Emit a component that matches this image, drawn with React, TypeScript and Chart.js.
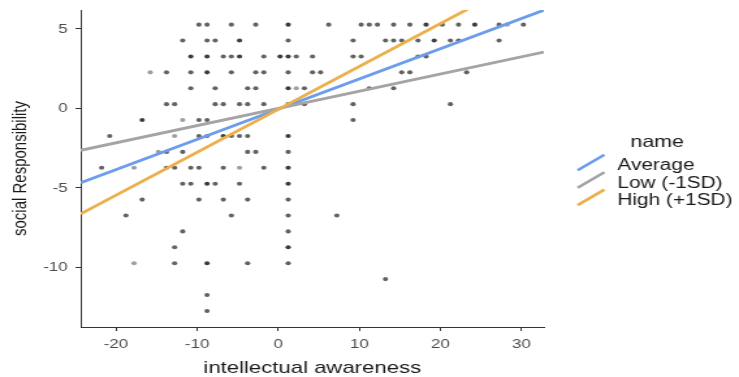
import React, { useEffect, useRef } from "react";
import { Chart, registerables } from "chart.js";

Chart.register(...registerables);

// ---------- data ----------
const xTickValues = [-20, -10, 0, 10, 20, 30];
const xTickLabels = ["-20", "-10", "0", "10", "20", "30"];
const yTickValues = [-10, -5, 0, 5];
const yTickLabels = ["-10", "-5", "0", "5"];

// intellectual awareness (x) of each plotted observation location
const awarenessValues = [
  // row 5.27
  -9.77, -8.77, -5.77, -2.77, 1.23, 6.23, 10.23, 11.23, 12.23, 14.23, 16.23, 18.23, 20.23, 22.23, 24.23, 27.23, 28.23, 30.23,
  // row 4.27
  -11.77, -8.77, -7.77, -4.77, 1.23, 9.23, 13.23, 14.23, 15.23, 17.23, 19.23, 21.23, 22.23, 27.23,
  // row 3.27
  -10.77, -8.77, -6.77, -5.77, -4.77, -1.77, 0.23, 1.23, 2.23, 4.23, 9.23, 10.23, 17.23, 18.23,
  // row 2.27
  -15.77, -13.77, -10.77, -8.77, -5.77, -2.77, -1.77, 1.23, 4.23, 5.23, 15.23, 16.23, 23.23,
  // row 1.27
  -10.77, -7.77, -3.77, -2.77, 1.23, 2.23, 3.23, 11.23, 14.23,
  // row 0.27
  -13.77, -12.77, -7.77, -6.77, -4.77, -3.77, -1.77, 1.23, 3.23, 9.23, 21.23,
  // row -0.73
  -16.77, -11.77, -9.77, -8.77, 9.23,
  // row -1.73
  -20.77, -12.77, -9.77, -8.77, -6.77, -5.77, -4.77, -3.77, 1.23,
  // row -2.73
  -14.77, -13.77, -11.77, -3.77, -2.77, 1.23,
  // row -3.73
  -21.77, -17.77, -13.77, -12.77, -10.77, -9.77, -6.77, -4.77, -1.77, 1.23,
  // row -4.73
  -11.77, -10.77, -8.77, -7.77, -4.77, 1.23,
  // row -5.73
  -16.77, -9.77, -6.77, -3.77, 1.23,
  // row -6.73
  -18.77, -5.77, 1.23, 7.23,
  // row -7.73
  -11.77, 1.23,
  // row -8.73
  -12.77, 1.23,
  // row -9.73
  -17.77, -12.77, -8.77, -3.77, 1.23,
  // row -10.73
  13.23,
  // row -11.73
  -8.77,
  // row -12.73
  -8.77,
];

// social Responsibility (y)
const responsibilityValues = [
  5.27, 5.27, 5.27, 5.27, 5.27, 5.27, 5.27, 5.27, 5.27, 5.27, 5.27, 5.27, 5.27, 5.27, 5.27, 5.27, 5.27, 5.27,
  4.27, 4.27, 4.27, 4.27, 4.27, 4.27, 4.27, 4.27, 4.27, 4.27, 4.27, 4.27, 4.27, 4.27,
  3.27, 3.27, 3.27, 3.27, 3.27, 3.27, 3.27, 3.27, 3.27, 3.27, 3.27, 3.27, 3.27, 3.27,
  2.27, 2.27, 2.27, 2.27, 2.27, 2.27, 2.27, 2.27, 2.27, 2.27, 2.27, 2.27, 2.27,
  1.27, 1.27, 1.27, 1.27, 1.27, 1.27, 1.27, 1.27, 1.27,
  0.27, 0.27, 0.27, 0.27, 0.27, 0.27, 0.27, 0.27, 0.27, 0.27, 0.27,
  -0.73, -0.73, -0.73, -0.73, -0.73,
  -1.73, -1.73, -1.73, -1.73, -1.73, -1.73, -1.73, -1.73, -1.73,
  -2.73, -2.73, -2.73, -2.73, -2.73, -2.73,
  -3.73, -3.73, -3.73, -3.73, -3.73, -3.73, -3.73, -3.73, -3.73, -3.73,
  -4.73, -4.73, -4.73, -4.73, -4.73, -4.73,
  -5.73, -5.73, -5.73, -5.73, -5.73,
  -6.73, -6.73, -6.73, -6.73,
  -7.73, -7.73,
  -8.73, -8.73,
  -9.73, -9.73, -9.73, -9.73, -9.73,
  -10.73,
  -11.73,
  -12.73,
];

// number of overlapping observations at each location
const overlapCount = [
  2, 2, 2, 2, 3, 2, 2, 2, 2, 2, 2, 3, 2, 2, 3, 2, 1, 2,
  2, 2, 2, 3, 2, 2, 2, 2, 2, 2, 3, 2, 2, 2,
  3, 3, 2, 2, 3, 2, 3, 3, 2, 2, 2, 2, 2, 2,
  1, 2, 2, 3, 2, 2, 2, 2, 2, 2, 2, 2, 2,
  2, 2, 2, 2, 3, 1, 2, 2, 2,
  2, 2, 2, 2, 2, 2, 2, 2, 2, 2, 2,
  3, 1, 2, 2, 2,
  2, 1, 2, 2, 3, 2, 2, 2, 3,
  1, 2, 2, 2, 2, 2,
  2, 1, 2, 2, 2, 2, 2, 1, 2, 3,
  2, 2, 3, 2, 2, 3,
  2, 2, 2, 2, 2,
  2, 2, 2, 2,
  2, 2,
  2, 3,
  1, 2, 3, 2, 2,
  2,
  2,
  2,
];

// simple slopes (two end points each)
const lineNames = ["Average", "Low (-1SD)", "High (+1SD)"];
const lineX = [-24.35, 32.75];
const averageY = [-4.67, 6.18];
const lowY = [-2.63, 3.54];
const highY = [-6.63, 8.78];

// ---------- styles ----------
const FONT = "'Liberation Sans', Arial, Helvetica, sans-serif";
const LINE_COLORS = ["#6C9CEC", "#A4A4A4", "#EBB04B"];
const CANVAS_W = 568;
const CANVAS_H = 377;

const legendPlugin = {
  id: "ggLegend",
  afterDraw(chart: any) {
    const { ctx, chartArea } = chart;
    const r = chartArea.right;
    const cy = (chartArea.top + chartArea.bottom) / 2;
    ctx.save();
    ctx.fillStyle = "#1a1a1a";
    ctx.textBaseline = "alphabetic";
    ctx.textAlign = "left";
    ctx.font = `16.5px ${FONT}`;
    ctx.fillText("name", r + 66.5, cy - 22);
    ctx.font = `16px ${FONT}`;
    lineNames.forEach((name, i) => {
      const base = cy + 1.8 + i * 17.4;
      ctx.strokeStyle = LINE_COLORS[i];
      ctx.lineWidth = 2.6;
      ctx.lineCap = "butt";
      ctx.beginPath();
      ctx.moveTo(r + 26, base);
      ctx.lineTo(r + 46.5, base - 15.5);
      ctx.stroke();
      ctx.fillText(name, r + 56.5, base);
    });
    ctx.restore();
  },
};

export default function App() {
  const ref = useRef<HTMLCanvasElement>(null);

  useEffect(() => {
    const canvas = ref.current;
    if (!canvas) return;

    const points = awarenessValues.map((x, i) => ({ x, y: responsibilityValues[i] }));
    const pointColors = overlapCount.map((n) => {
      const a = 1 - Math.pow(1 - 0.38, n);
      return `rgba(0,0,0,${a.toFixed(3)})`;
    });
    const lineSeries = [averageY, lowY, highY];
    const lineDatasets = [2, 1, 0].map((k) => ({
      label: lineNames[k],
      data: lineX.map((x, i) => ({ x, y: lineSeries[k][i] })),
      showLine: true,
      borderColor: LINE_COLORS[k],
      backgroundColor: LINE_COLORS[k],
      borderWidth: 2.8,
      pointRadius: 0,
      pointHoverRadius: 0,
      fill: false,
      tension: 0,
      clip: 0,
    }));

    const chart = new Chart(canvas, {
      type: "scatter",
      data: {
        datasets: [
          ...lineDatasets,
          {
            label: "observations",
            data: points,
            pointRadius: 2.05,
            pointHoverRadius: 2.05,
            pointBorderWidth: 0,
            pointBackgroundColor: pointColors,
            pointBorderColor: pointColors,
            showLine: false,
            clip: false,
          },
        ] as any,
      },
      options: {
        responsive: false,
        maintainAspectRatio: false,
        animation: false,
        devicePixelRatio: 1,
        events: [],
        layout: { autoPadding: false, padding: { left: 0, right: 150, top: 10, bottom: 0 } },
        plugins: {
          legend: { display: false },
          tooltip: { enabled: false },
        },
        scales: {
          x: {
            type: "linear",
            min: -24.35,
            max: 32.75,
            afterBuildTicks: (s: any) => {
              s.ticks = xTickValues.map((v) => ({ value: v }));
            },
            afterFit: (s: any) => {
              s.height = 50;
              s.paddingLeft = 0;
              s.paddingRight = 0;
            },
            grid: { drawOnChartArea: false, drawTicks: true, tickLength: 4, color: "#333", lineWidth: 1 },
            border: { display: true, color: "#333", width: 1 },
            ticks: {
              color: "#4d4d4d",
              font: { family: FONT, size: 13 },
              padding: 6,
              maxRotation: 0,
              autoSkip: false,
              callback: (_v: any, i: number) => xTickLabels[i],
            },
            title: {
              display: true,
              text: "intellectual awareness",
              color: "#1a1a1a",
              font: { family: FONT, size: 17 },
              padding: { top: 0, bottom: -2 },
            },
          },
          y: {
            type: "linear",
            min: -13.74,
            max: 6.19,
            afterBuildTicks: (s: any) => {
              s.ticks = yTickValues.map((v) => ({ value: v }));
            },
            afterFit: (s: any) => {
              s.width = 62;
              s.paddingTop = 0;
              s.paddingBottom = 0;
            },
            grid: { drawOnChartArea: false, drawTicks: true, tickLength: 4, color: "#333", lineWidth: 1 },
            border: { display: true, color: "#333", width: 1 },
            ticks: {
              color: "#4d4d4d",
              font: { family: FONT, size: 13 },
              padding: 6,
              autoSkip: false,
              callback: (_v: any, i: number) => yTickLabels[i],
            },
            title: {
              display: true,
              text: "social Responsibility",
              color: "#1a1a1a",
              font: { family: FONT, size: 15 },
              padding: { top: 7, bottom: 0 },
            },
          },
        },
      } as any,
      plugins: [legendPlugin],
    });

    return () => chart.destroy();
  }, []);

  return (
    <div style={{ position: "fixed", left: 0, top: 0, width: 739, height: 377, background: "#fff" }}>
      <canvas
        ref={ref}
        width={CANVAS_W}
        height={CANVAS_H}
        style={{ width: "739px", height: "377px", display: "block" }}
      />
    </div>
  );
}
